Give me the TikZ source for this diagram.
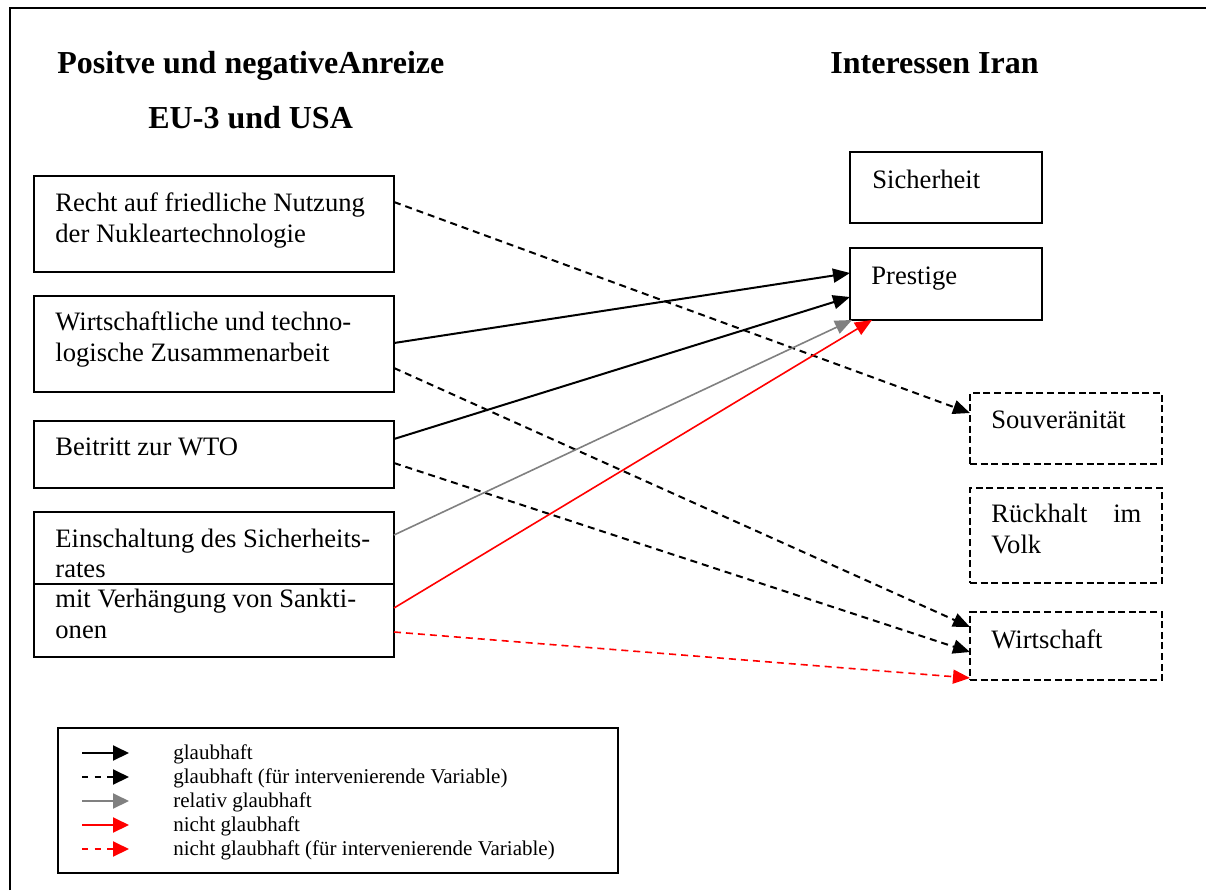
\documentclass[tikz,border=0pt]{standalone}
\usepackage{fontspec}
\setmainfont{Liberation Serif}
\usetikzlibrary{arrows.meta,calc}
\begin{document}
\begin{tikzpicture}[x=0.5pt,y=-0.5pt,
  box/.style={draw,line width=1pt,rectangle,inner sep=0pt,outer sep=0pt,anchor=north west},
  dbox/.style={box,dash pattern=on 3.5pt off 1.8pt},
  body/.style={font=\fontsize{13.3pt}{15.5pt}\selectfont,inner sep=0pt,anchor=base west},
  head/.style={font=\fontsize{16pt}{19pt}\selectfont\bfseries,inner sep=0pt,anchor=base west},
  key/.style={font=\fontsize{10.5pt}{12pt}\selectfont,inner sep=0pt,anchor=base west},
  arr/.style={-{Triangle[length=8.5pt,width=7pt]}},
  keyarr/.style={-{Triangle[length=8pt,width=7.5pt]}},
  sure/.style={arr,line width=1pt,black},
  suredash/.style={sure,dash pattern=on 3.5pt off 2.5pt},
  relative/.style={arr,line width=0.8pt,gray},
  notsure/.style={arr,line width=0.8pt,red},
  notsuredash/.style={notsure,dash pattern=on 3.5pt off 2.5pt},
  keydash/.style={dash pattern=on 3pt off 3.3pt}
]
\useasboundingbox (0,0) rectangle (1206,890);
\fill[white] (0,0) rectangle (1206,890);

% outer frame (left and top edges)
\draw[line width=1.2pt] (10,890) -- (10,8) -- (1206,8);

% headings
\node[head] (h1) at (57,73) {Positve und negativeAnreize};
\node[head] (h2) at (148,128) {EU-3 und USA};
\node[head] (h3) at (830,73) {Interessen Iran};

% incentives (left column)
\node[box,minimum width=180pt,minimum height=48pt] (b1) at (34,176) {};
\node[body] (t1a) at (55,211) {Recht auf friedliche Nutzung};
\node[body] (t1b) at (55,242) {der Nukleartechnologie};

\node[box,minimum width=180pt,minimum height=48pt] (b2) at (34,296) {};
\node[body] (t2a) at (55,330) {Wirtschaftliche und techno-};
\node[body] (t2b) at (55,361) {logische Zusammenarbeit};

\node[box,minimum width=180pt,minimum height=33.5pt] (b3) at (34,421) {};
\node[body] (t3a) at (55,455) {Beitritt zur WTO};

\node[box,minimum width=180pt,minimum height=36pt] (b4) at (34,512) {};
\node[body] (t4a) at (55,547) {Einschaltung des Sicherheits-};
\node[body] (t4b) at (55,577) {rates};

\node[box,minimum width=180pt,minimum height=36.5pt] (b5) at (34,584) {};
\node[body] (t5a) at (55,607) {mit Verhängung von Sankti-};
\node[body] (t5b) at (55,638) {onen};

% interests (right column)
\node[box,minimum width=96pt,minimum height=35.5pt] (si) at (850,152) {};
\node[body] (tsi) at (872,188) {Sicherheit};

\node[box,minimum width=96pt,minimum height=36pt] (pr) at (850,248) {};
\node[body] (tpr) at (871,284) {Prestige};

\node[dbox,minimum width=96pt,minimum height=35.5pt] (so) at (970,393) {};
\node[body] (tso) at (991,428) {Souveränität};

\node[dbox,minimum width=96pt,minimum height=47.5pt] (ru) at (970,488) {};
\node[body] (tru1) at (991,522) {\makebox[75pt][s]{Rückhalt im}};
\node[body] (tru2) at (991,553) {Volk};

\node[dbox,minimum width=96pt,minimum height=34pt] (wi) at (970,612) {};
\node[body] (twi) at (991,648) {Wirtschaft};

% connectors
\draw[suredash] ($(b1.north east)+(0,26)$) -- ($(so.north west)+(0,20)$);
\draw[sure] ($(b2.north east)+(0,47)$) -- ($(pr.north west)+(0,25)$);
\draw[suredash] ($(b2.north east)+(0,72)$) -- ($(wi.north west)+(0,15)$);
\draw[sure] ($(b3.north east)+(0,18)$) -- ($(pr.north west)+(0,49)$);
\draw[suredash] ($(b3.north east)+(0,42)$) -- ($(wi.north west)+(0,40)$);
\draw[relative] ($(b4.north east)+(0,23)$) -- ($(pr.south west)+(2,0)$);
\draw[notsure] ($(b5.north east)+(0,24)$) -- ($(pr.south west)+(22,0)$);
\draw[notsuredash] ($(b5.north east)+(0,48)$) -- ($(wi.south west)+(0,-2)$);

% legend
\node[box,minimum width=280pt,minimum height=72.5pt] (lg) at (58,728) {};
\coordinate (k1a) at (82,753); \coordinate (k1b) at (129,753);
\coordinate (k2a) at (82,777); \coordinate (k2b) at (129,777);
\coordinate (k3a) at (82,801); \coordinate (k3b) at (129,801);
\coordinate (k4a) at (82,825); \coordinate (k4b) at (129,825);
\coordinate (k5a) at (82,849); \coordinate (k5b) at (129,849);
\draw[sure,keyarr] (k1a) -- (k1b);
\draw[sure,keyarr,keydash] (k2a) -- (k2b);
\draw[relative,keyarr,line width=1pt] (k3a) -- (k3b);
\draw[notsure,keyarr,line width=1pt] (k4a) -- (k4b);
\draw[notsure,keyarr,line width=1pt,keydash] (k5a) -- (k5b);
\node[key] (l1) at (173,759) {glaubhaft};
\node[key] (l2) at (173,783) {glaubhaft (für intervenierende Variable)};
\node[key] (l3) at (173,807) {relativ glaubhaft};
\node[key] (l4) at (173,831) {nicht glaubhaft};
\node[key] (l5) at (173,855) {nicht glaubhaft (für intervenierende Variable)};
\end{tikzpicture}
\end{document}
